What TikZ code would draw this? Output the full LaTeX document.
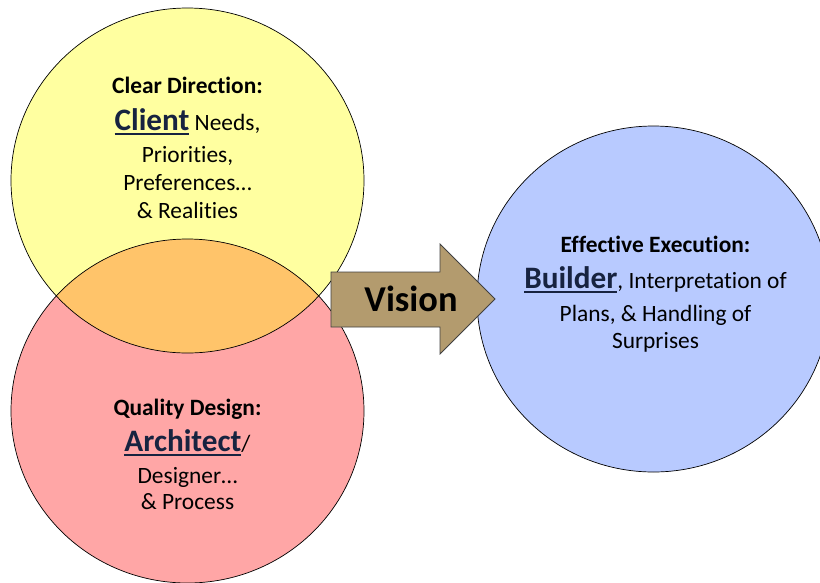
\documentclass[tikz,border=0pt]{standalone}
\usepackage{fontspec}
\setmainfont{Carlito}[Ligatures=NoCommon]

\definecolor{clientfill}{RGB}{255,255,160}
\definecolor{designfill}{RGB}{255,166,166}
\definecolor{overlapfill}{RGB}{255,196,106}
\definecolor{builderfill}{RGB}{184,202,255}
\definecolor{visionfill}{RGB}{179,155,110}
\definecolor{namecol}{RGB}{23,35,64}

% big underlined role names
\newsavebox{\rolebox}
\newcommand{\rolename}[1]{{\fontsize{31.2}{36}\selectfont\bfseries\color{namecol}%
    \sbox{\rolebox}{#1}\rlap{\rule[-4.6pt]{\wd\rolebox}{1.8pt}}\usebox{\rolebox}}}

\begin{document}
\begin{tikzpicture}[x=1pt, y=-1pt, line width=0.7pt,
    txt/.style={anchor=base, inner sep=0pt, font=\fontsize{23.4}{28}\selectfont},
    head/.style={txt, font=\fontsize{23.4}{28}\selectfont\bfseries}]

    \useasboundingbox (0,0) rectangle (820,582);

    % ==========================================
    % 1. Cerchi (client, architect, builder)
    % ==========================================
    \fill[clientfill] (187.5,180.5) ellipse [x radius=176.5pt, y radius=172.5pt];
    \fill[designfill] (187.5,411) ellipse [x radius=176.5pt, y radius=172pt];
    \begin{scope}
        \clip (187.5,180.5) ellipse [x radius=176.5pt, y radius=172.5pt];
        \fill[overlapfill] (187.5,411) ellipse [x radius=176.5pt, y radius=172pt];
    \end{scope}
    \draw (187.5,180.5) ellipse [x radius=176.5pt, y radius=172.5pt];
    \draw (187.5,411) ellipse [x radius=176.5pt, y radius=172pt];

    \filldraw[fill=builderfill] (653.5,299) ellipse [x radius=176.5pt, y radius=173pt];

    % ==========================================
    % 2. Freccia (Vision)
    % ==========================================
    \filldraw[fill=visionfill, draw=black!75, line width=0.8pt]
        (331,272) -- (440,272) -- (440,244) -- (495,299) --
        (440,354) -- (440,327) -- (331,327) -- cycle;
    \node[txt, font=\fontsize{36.4}{40}\selectfont\bfseries] (vision) at (411,311.5) {Vision};

    % ==========================================
    % 3. Testi
    % ==========================================
    \node[head] (clientHead) at (187.5,93) {Clear Direction:};
    \node[txt] (clientName) at (187.5,130) {\rolename{Client} Needs,};
    \node[txt] (clientLineA) at (187.5,162) {Priorities,};
    \node[txt] (clientLineB) at (187.5,190) {Preferences…};
    \node[txt] (clientLineC) at (187.5,218) {\& Realities};

    \node[head] (designHead) at (187.5,415) {Quality Design:};
    \node[txt] (designName) at (187.5,451) {\rolename{Architect}/};
    \node[txt] (designLineA) at (187.5,483) {Designer…};
    \node[txt] (designLineB) at (187.5,509) {\& Process};

    \node[head] (builderHead) at (655.5,252) {Effective Execution:};
    \node[txt] (builderName) at (655.5,288) {\rolename{Builder}, Interpretation of};
    \node[txt] (builderLineA) at (655.5,321) {Plans, \& Handling of};
    \node[txt] (builderLineB) at (655.5,348) {Surprises};

\end{tikzpicture}
\end{document}
